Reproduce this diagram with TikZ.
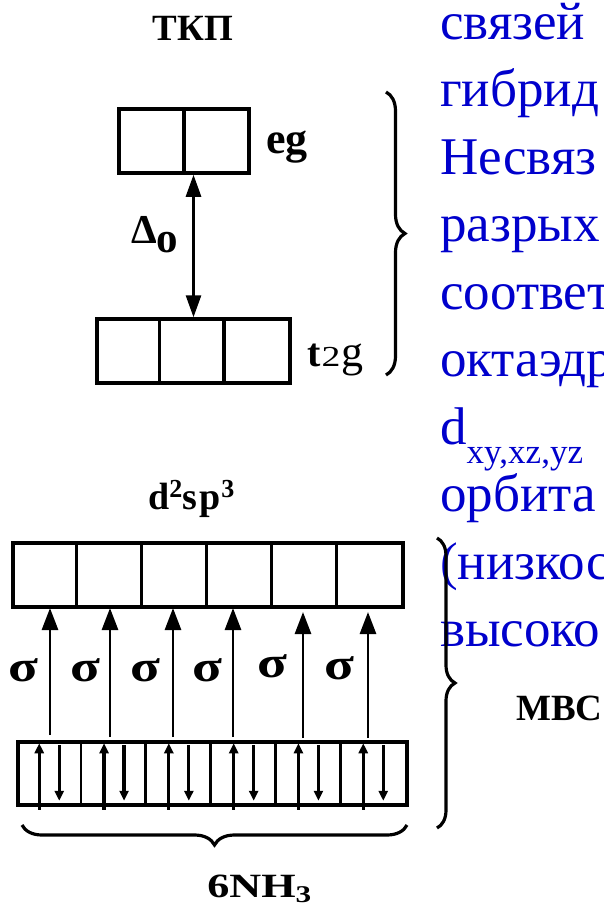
\documentclass[tikz,border=0pt]{standalone}
\usepackage{fontspec}
\setmainfont{Liberation Serif}
\usetikzlibrary{arrows.meta,decorations.pathreplacing}
\definecolor{textblue}{RGB}{0,0,204}
\newcommand\setfs[1]{\fontsize{#1}{#1}\selectfont}
\begin{document}
\begin{tikzpicture}[x=1pt,y=1pt,
  orbbox/.style={draw, line width=3.5, inner sep=0, minimum height=64},
  divline/.style={line width=3.3},
  gap/.style={line width=2.8, {Triangle[length=22,width=15]}-{Triangle[length=22,width=15]}},
  bondarrow/.style={line width=2.8, -{Triangle[length=22,width=16]}},
  spin/.style={line width=3.2, -{Triangle[length=10,width=9]}},
  curly/.style={line width=3.2, decorate, decoration={brace, amplitude=#1}},
  lbl/.style={inner sep=0, anchor=base west},
  bluetext/.style={inner sep=0, anchor=base west, text=textblue, font=\setfs{53}}]
\useasboundingbox (0,0) rectangle (604,-908);
\clip (0,0) rectangle (604,-908);

% crystal field splitting
\node[inner sep=0, anchor=base, font=\bfseries\setfs{37}] (tkp) at (193,-40) {ТКП};
\node[orbbox, minimum width=130] (eg) at (184,-141) {};
\draw[divline] (eg.north) -- (eg.south);
\node[orbbox, minimum width=193] (t2g) at (193.5,-351) {};
\draw[divline] ([xshift=64.3]t2g.north west) -- ([xshift=64.3]t2g.south west);
\draw[divline] ([xshift=128.7]t2g.north west) -- ([xshift=128.7]t2g.south west);
\draw[gap] (eg.south -| t2g.north) -- (t2g.north);
\node[lbl, font=\bfseries\setfs{44}] (eglbl) at (266,-153) {eg};
\node[lbl] (t2glbl) at (307,-366)
  {{\bfseries\setfs{40}t}\kern1pt\scalebox{1.3}[1]{\setfs{29}2}\kern1pt{\setfs{44}g}};
\node[lbl] (delta) at (131,-243) {\bfseries\setfs{41}Δ\raisebox{-9pt}{\setfs{43}o}};
\draw[curly=19] (386,-92) -- (386,-375);

% explanatory text
\foreach \yb/\txt in {39/связей, 106.5/гибрид, 174/Несвяз, 241.5/разрых,
                      309/соответ, 376.5/октаэдр, 511.5/орбита,
                      579/(низкос, 646.5/высоко}
  \node[bluetext] at (440,-\yb) {\txt};
\node[bluetext] (dorb) at (440,-444) {d\raisebox{-19pt}{\setfs{35}xy,xz,yz}};

% hybrid orbitals of the central atom
\node[lbl, font=\bfseries] (hyblbl) at (148,-509)
  {\setfs{38}d\raisebox{12pt}{\setfs{26}2}s\kern2pt p\kern1pt\raisebox{12pt}{\setfs{26}3}};
\node[orbbox, minimum width=390] (hyb) at (208,-575) {};
\foreach \k in {1,...,5}
  \draw[divline] ([xshift=\k*65]hyb.north west) -- ([xshift=\k*65]hyb.south west);

% ligand electron pairs
\node[orbbox, minimum width=389, minimum height=63] (lig) at (212.5,-773.5) {};
\foreach \k in {1,...,5}
  \draw[line width=2.8] ([xshift=\k*64.8]lig.north west) -- ([xshift=\k*64.8]lig.south west);
\foreach \k in {0,...,5} {
  \coordinate (up\k) at ([xshift=\k*64.8+23, yshift=-3]lig.south west);
  \coordinate (upend\k) at ([xshift=\k*64.8+23, yshift=-3]lig.north west);
  \coordinate (dn\k) at ([xshift=\k*64.8+43, yshift=-5]lig.north west);
  \coordinate (dnend\k) at ([xshift=\k*64.8+43, yshift=6]lig.south west);
  \draw[spin] (up\k) -- (upend\k);
  \draw[spin] (dn\k) -- (dnend\k);
}

% sigma bonds
\foreach \i/\x/\ytip/\ytail/\sx/\sy in {1/50/608/735/23/670, 2/110/608/737/85/670,
    3/173/608/737/145/670, 4/233/608/737/207/670, 5/303/612/738/272/666, 6/368/612/738/339/668} {
  \coordinate (bt\i) at (\x,-\ytail);
  \coordinate (bh\i) at (\x,-\ytip);
  \draw[bondarrow] (bt\i) -- (bh\i);
  \node[inner sep=0, font=\bfseries\setfs{44}, xscale=1.25] (sig\i) at (\sx,-\sy) {σ};
}

\draw[curly=20] (407,-825) -- (22,-825);
\node[lbl, xscale=1.3] (nh3) at (207,-897) {\bfseries\setfs{34}6NH\raisebox{-5pt}{\setfs{24}3}};

\draw[curly=18] (437,-538) -- (437,-828);
\node[lbl, font=\bfseries\setfs{37}] (mvs) at (516,-720) {МВС};
\end{tikzpicture}
\end{document}
